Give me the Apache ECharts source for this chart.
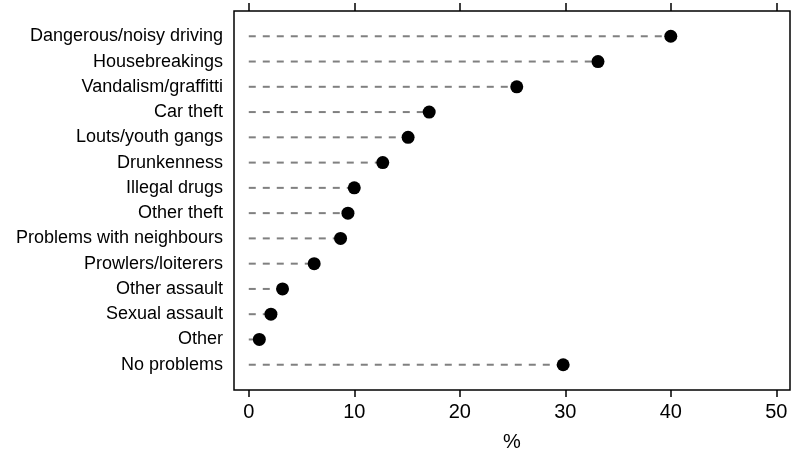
<!DOCTYPE html>
<html>
<head>
<meta charset="utf-8">
<script src="https://cdn.jsdelivr.net/npm/echarts@6/dist/echarts.min.js"></script>
<style>html,body{margin:0;padding:0;background:#fff;}#c{width:791px;height:452px;}</style>
</head>
<body>
<div id="c"></div>
<script>
var categories = ['Dangerous/noisy driving','Housebreakings','Vandalism/graffitti','Car theft','Louts/youth gangs','Drunkenness','Illegal drugs','Other theft','Problems with neighbours','Prowlers/loiterers','Other assault','Sexual assault','Other','No problems'];
var values = [40.0, 33.1, 25.4, 17.1, 15.1, 12.7, 10.0, 9.4, 8.7, 6.2, 3.2, 2.1, 1.0, 29.8];
var xTicks = [0, 10, 20, 30, 40, 50];

var FONT = '"Liberation Sans", Arial, sans-serif';
var points = values.map(function (v, i) { return [v, i]; });
var rowIdx = categories.map(function (c, i) { return i; });

var chart = echarts.init(document.getElementById('c'));
var xBase = {
  type: 'value', min: -1.4, max: 51.3,
  splitLine: { show: false },
  axisLine: { show: false, onZero: false }
};
chart.setOption({
  animation: false,
  grid: { left: 234, right: 1, top: 11, bottom: 62, outerBoundsMode: 'none', containLabel: false, show: true, borderColor: '#000', borderWidth: 1.5, backgroundColor: 'transparent' },
  xAxis: [
    Object.assign({}, xBase, {
      position: 'bottom',
      name: '%', nameLocation: 'middle', nameGap: 42,
      nameTextStyle: { fontFamily: FONT, fontSize: 20, color: '#000' },
      axisTick: { show: true, inside: false, length: 7, lineStyle: { color: '#000', width: 1.5 }, customValues: xTicks },
      axisLabel: { show: true, margin: 12, fontFamily: FONT, fontSize: 20, color: '#000', customValues: xTicks }
    }),
    Object.assign({}, xBase, {
      position: 'top',
      axisTick: { show: true, inside: false, length: 8, lineStyle: { color: '#000', width: 1.5 }, customValues: xTicks },
      axisLabel: { show: false }
    })
  ],
  yAxis: {
    type: 'value', min: -1, max: 14, inverse: true,
    splitLine: { show: false },
    axisLine: { show: false, onZero: false },
    axisTick: { show: false },
    axisLabel: {
      show: true, margin: 11, fontFamily: FONT, fontSize: 18, color: '#000',
      customValues: rowIdx,
      formatter: function (v) { return categories[v] || ''; }
    }
  },
  series: [
    {
      type: 'custom',
      xAxisIndex: 0,
      data: points,
      renderItem: function (params, api) {
        var a = api.coord([0, api.value(1)]);
        var b = api.coord([api.value(0), api.value(1)]);
        return {
          type: 'line',
          shape: { x1: a[0], y1: a[1], x2: b[0], y2: b[1] },
          style: { stroke: '#808080', lineWidth: 2, lineDash: [7, 7] }
        };
      },
      z: 1
    },
    {
      type: 'scatter',
      xAxisIndex: 0,
      data: points,
      symbol: 'circle',
      symbolSize: 13,
      itemStyle: { color: '#000', opacity: 1 },
      z: 3
    }
  ]
});
</script>
</body>
</html>
